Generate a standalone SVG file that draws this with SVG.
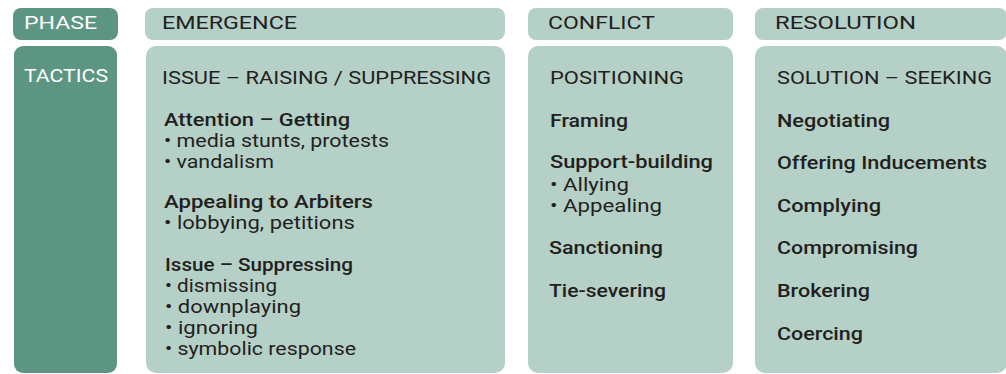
<svg xmlns="http://www.w3.org/2000/svg" width="1006" height="374" viewBox="0 0 1006 374">
<style>
.dark{fill:#5c9682}
.light{fill:#b5d0c7}
text{font-family:Roboto,"Liberation Sans",sans-serif;font-size:17.8px;fill:#231f20}
.h{font-weight:400;font-size:19px}
.w{fill:#ffffff}
.b{font-weight:500}
.n{font-weight:400}
</style>
<rect width="1006" height="374" fill="#ffffff"/>
<g id="phase">
<rect class="dark" x="13" y="8" width="105" height="32" rx="8"/>
<text class="w h" x="24" y="29" textLength="73" lengthAdjust="spacingAndGlyphs">PHASE</text>
</g>
<g id="tactics">
<rect class="dark" x="14" y="46" width="103" height="327" rx="9"/>
<text class="w h" x="24" y="82" textLength="84" lengthAdjust="spacingAndGlyphs">TACTICS</text>
</g>
<g id="emergence-header">
<rect class="light" x="145" y="8" width="360" height="32" rx="8"/>
<text class="h" x="162" y="29" textLength="135" lengthAdjust="spacingAndGlyphs">EMERGENCE</text>
</g>
<g id="conflict-header">
<rect class="light" x="528" y="8" width="205" height="32" rx="8"/>
<text class="h" x="548" y="29" textLength="107" lengthAdjust="spacingAndGlyphs">CONFLICT</text>
</g>
<g id="resolution-header">
<rect class="light" x="755" y="8" width="252" height="32" rx="8"/>
<text class="h" x="775" y="29" textLength="141" lengthAdjust="spacingAndGlyphs">RESOLUTION</text>
</g>
<g id="emergence-body">
<rect class="light" x="146" y="46" width="359" height="327" rx="10"/>
<text class="h" x="162" y="84" textLength="329" lengthAdjust="spacingAndGlyphs">ISSUE – RAISING / SUPPRESSING</text>
<text class="b" x="164" y="126" textLength="186" lengthAdjust="spacingAndGlyphs">Attention – Getting</text>
<text class="n" x="164" y="147" textLength="225" lengthAdjust="spacingAndGlyphs">• media stunts, protests</text>
<text class="n" x="164" y="168" textLength="110" lengthAdjust="spacingAndGlyphs">• vandalism</text>
<text class="b" x="164" y="208" textLength="209" lengthAdjust="spacingAndGlyphs">Appealing to Arbiters</text>
<text class="n" x="164" y="229" textLength="191" lengthAdjust="spacingAndGlyphs">• lobbying, petitions</text>
<text class="b" x="165" y="271" textLength="188" lengthAdjust="spacingAndGlyphs">Issue – Suppressing</text>
<text class="n" x="165" y="292" textLength="112" lengthAdjust="spacingAndGlyphs">• dismissing</text>
<text class="n" x="165" y="313" textLength="136" lengthAdjust="spacingAndGlyphs">• downplaying</text>
<text class="n" x="165" y="334" textLength="93" lengthAdjust="spacingAndGlyphs">• ignoring</text>
<text class="n" x="165" y="355" textLength="191" lengthAdjust="spacingAndGlyphs">• symbolic response</text>
</g>
<g id="conflict-body">
<rect class="light" x="528" y="46" width="205" height="327" rx="10"/>
<text class="h" x="550" y="84" textLength="134" lengthAdjust="spacingAndGlyphs">POSITIONING</text>
<text class="b" x="550" y="127" textLength="78" lengthAdjust="spacingAndGlyphs">Framing</text>
<text class="b" x="550" y="168" textLength="163" lengthAdjust="spacingAndGlyphs">Support-building</text>
<text class="n" x="550" y="191" textLength="79" lengthAdjust="spacingAndGlyphs">• Allying</text>
<text class="n" x="550" y="212" textLength="112" lengthAdjust="spacingAndGlyphs">• Appealing</text>
<text class="b" x="549" y="254" textLength="114" lengthAdjust="spacingAndGlyphs">Sanctioning</text>
<text class="b" x="549" y="297" textLength="117" lengthAdjust="spacingAndGlyphs">Tie-severing</text>
</g>
<g id="resolution-body">
<rect class="light" x="755" y="46" width="252" height="327" rx="10"/>
<text class="h" x="777" y="84" textLength="215" lengthAdjust="spacingAndGlyphs">SOLUTION – SEEKING</text>
<text class="b" x="777" y="127" textLength="113" lengthAdjust="spacingAndGlyphs">Negotiating</text>
<text class="b" x="777" y="169" textLength="210" lengthAdjust="spacingAndGlyphs">Offering Inducements</text>
<text class="b" x="777" y="212" textLength="104" lengthAdjust="spacingAndGlyphs">Complying</text>
<text class="b" x="777" y="254" textLength="141" lengthAdjust="spacingAndGlyphs">Compromising</text>
<text class="b" x="777" y="297" textLength="93" lengthAdjust="spacingAndGlyphs">Brokering</text>
<text class="b" x="777" y="340" textLength="86" lengthAdjust="spacingAndGlyphs">Coercing</text>
</g>
</svg>
